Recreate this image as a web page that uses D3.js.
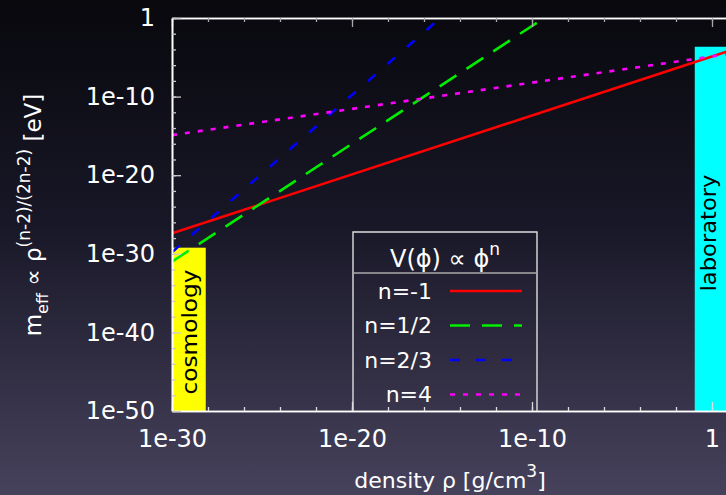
<!DOCTYPE html>
<html>
<head>
<meta charset="utf-8">
<script src="https://cdn.jsdelivr.net/npm/d3@7"></script>
<style>
  html, body { margin: 0; padding: 0; background: #000; }
  svg { display: block; font-family: "DejaVu Sans", sans-serif; }
</style>
</head>
<body>
<div id="chart"></div>
<script>
// chart values
var seriesNames = ["n=-1", "n=1/2", "n=2/3", "n=4"];
var seriesColors = ["#ff0000", "#00ee00", "#0000ff", "#ff00ff"];
var seriesDash = [null, "20,12", "10,16", "5,8"];
// each line is straight on log-log axes: [density, m_eff] end points
var lineMinusOne = [[1e-30, 4e-28], [1e2, 4e-4]];
var lineHalf = [[1e-30, 1e-31], [4.7e-10, 1]];
var lineTwoThirds = [[1e-30, 1.6e-30], [8e-16, 1]];
var lineFour = [[1e-30, 1.26e-15], [1e2, 6e-5]];
var seriesData = [lineMinusOne, lineHalf, lineTwoThirds, lineFour];

var regionNames = ["cosmology", "laboratory"];
var regionColors = ["#ffff00", "#00ffff"];
var regionX = [[1e-30, 7.5e-29], [1.1e-1, 1e10]];
var regionY = [[1e-50, 6e-30], [1e-50, 2.2e-4]];

var xTicks = [1e-30, 1e-20, 1e-10, 1];
var yTicks = [1e-50, 1e-40, 1e-30, 1e-20, 1e-10, 1];

var svgWidth = 726;
var svgHeight = 495;
var margin = { top: 18, left: 172 };
var width = 720;   // 40 decades, runs off the right edge like the original
var height = 393;

var svg = d3.select("#chart")
  .append("svg")
  .attr("width", svgWidth)
  .attr("height", svgHeight);

// background gradient
var defs = svg.append("defs");
var grad = defs.append("linearGradient")
  .attr("id", "bg")
  .attr("x1", 0).attr("y1", 0).attr("x2", 0).attr("y2", 1);
grad.append("stop").attr("offset", "0%").attr("stop-color", "#08080d");
grad.append("stop").attr("offset", "45%").attr("stop-color", "#181727");
grad.append("stop").attr("offset", "100%").attr("stop-color", "#47425c");
svg.append("rect")
  .attr("width", svgWidth).attr("height", svgHeight)
  .attr("fill", "url(#bg)");

defs.append("clipPath").attr("id", "plotclip")
  .append("rect")
  .attr("width", width).attr("height", height);

var chartGroup = svg.append("g")
  .attr("transform", `translate(${margin.left}, ${margin.top})`);

var x = d3.scaleLog().domain([1e-30, 1e10]).range([0, width]);
var y = d3.scaleLog().domain([1e-50, 1]).range([height, 0]);

function fmt(d) {
  var p = Math.round(Math.log10(d));
  return p === 0 ? "1" : "1e" + p;
}

// minor ticks every 2 decades
var xMinor = d3.range(-30, 11, 2).map(p => Math.pow(10, p));
var yMinor = d3.range(-50, 1, 2).map(p => Math.pow(10, p));

// shaded regions
var plot = chartGroup.append("g").attr("clip-path", "url(#plotclip)");
plot.selectAll("rect.region")
  .data(regionNames)
  .enter()
  .append("rect")
  .attr("class", "region")
  .attr("x", (d, i) => x(regionX[i][0]))
  .attr("width", (d, i) => x(regionX[i][1]) - x(regionX[i][0]))
  .attr("y", (d, i) => y(regionY[i][1]))
  .attr("height", (d, i) => y(regionY[i][0]) - y(regionY[i][1]))
  .attr("fill", (d, i) => regionColors[i]);

// region labels
chartGroup.append("text")
  .attr("transform", `translate(${x(1e-30) + 25}, 314) rotate(-90)`)
  .attr("text-anchor", "middle")
  .attr("font-size", 21)
  .attr("textLength", 125)
  .attr("lengthAdjust", "spacingAndGlyphs")
  .attr("fill", "#000")
  .text(regionNames[0]);

chartGroup.append("text")
  .attr("transform", `translate(${x(1) + 4}, 215) rotate(-90)`)
  .attr("text-anchor", "middle")
  .attr("font-size", 21)
  .attr("textLength", 117)
  .attr("lengthAdjust", "spacingAndGlyphs")
  .attr("fill", "#000")
  .text(regionNames[1]);

// the lines
var line = d3.line()
  .x(d => x(d[0]))
  .y(d => y(d[1]));

plot.selectAll("path.series")
  .data(seriesData)
  .enter()
  .append("path")
  .attr("class", "series")
  .attr("d", line)
  .attr("fill", "none")
  .attr("stroke", (d, i) => seriesColors[i])
  .attr("stroke-width", 2.6)
  .attr("stroke-dasharray", (d, i) => seriesDash[i]);

// axes
function styleAxis(g, col) {
  g.select(".domain").attr("stroke", "#fff").attr("stroke-width", 1.6);
  g.selectAll(".tick line").attr("stroke", col).attr("stroke-width", 1.3);
  g.selectAll(".tick text")
    .attr("fill", "#fff")
    .attr("font-size", 24)
    .attr("font-family", "DejaVu Sans, sans-serif");
}

var bottomAxis = chartGroup.append("g")
  .attr("transform", `translate(0, ${height})`)
  .call(d3.axisBottom(x).tickValues(xTicks).tickFormat(fmt)
    .tickSizeInner(-9).tickSizeOuter(0).tickPadding(19));
styleAxis(bottomAxis, "#ddd");

var bottomMinor = chartGroup.append("g")
  .attr("transform", `translate(0, ${height})`)
  .call(d3.axisBottom(x).tickValues(xMinor).tickFormat("")
    .tickSizeInner(-4).tickSizeOuter(0));
styleAxis(bottomMinor, "#ddd");

var topAxis = chartGroup.append("g")
  .call(d3.axisTop(x).tickValues(xTicks).tickFormat("")
    .tickSizeInner(-9).tickSizeOuter(0));
styleAxis(topAxis, "#aaa");

var topMinor = chartGroup.append("g")
  .call(d3.axisTop(x).tickValues(xMinor).tickFormat("")
    .tickSizeInner(-4).tickSizeOuter(0));
styleAxis(topMinor, "#aaa");

var leftAxis = chartGroup.append("g")
  .call(d3.axisLeft(y).tickValues(yTicks).tickFormat(fmt)
    .tickSizeInner(-9).tickSizeOuter(0).tickPadding(17));
styleAxis(leftAxis, "#ccc");

var leftMinor = chartGroup.append("g")
  .call(d3.axisLeft(y).tickValues(yMinor).tickFormat("")
    .tickSizeInner(-4).tickSizeOuter(0));
styleAxis(leftMinor, "#ccc");

// axis titles
var yTitle = svg.append("text")
  .attr("transform", `translate(41, 215) rotate(-90)`)
  .attr("text-anchor", "middle")
  .attr("fill", "#fff")
  .attr("font-size", 23);
yTitle.append("tspan").text("m");
yTitle.append("tspan").attr("font-size", 16).attr("dy", 7).text("eff");
yTitle.append("tspan").attr("dy", -7).text(" \u221d \u03c1");
yTitle.append("tspan").attr("font-size", 17).attr("dy", -11).text("(n-2)/(2n-2)");
yTitle.append("tspan").attr("dy", 11).text(" [eV]");

var xTitle = svg.append("text")
  .attr("x", 450)
  .attr("y", 488)
  .attr("text-anchor", "middle")
  .attr("fill", "#fff")
  .attr("font-size", 22);
xTitle.append("tspan").text("density \u03c1 [g/cm");
xTitle.append("tspan").attr("font-size", 17).attr("dy", -11).text("3");
xTitle.append("tspan").attr("dy", 11).text("]");

// legend box
var legend = svg.append("g");
var lx0 = 353, lx1 = 537, ly0 = 232, ly1 = 411, lsep = 273;
legend.append("path")
  .attr("d", `M${lx0},${ly1} V${ly0} H${lx1} V${ly1}`)
  .attr("fill", "none")
  .attr("stroke", "#ddd")
  .attr("stroke-width", 1.4);
legend.append("line")
  .attr("x1", lx0).attr("x2", lx1)
  .attr("y1", lsep).attr("y2", lsep)
  .attr("stroke", "#aaa")
  .attr("stroke-width", 1.4);

var header = legend.append("text")
  .attr("x", 445).attr("y", 267)
  .attr("text-anchor", "middle")
  .attr("fill", "#fff")
  .attr("font-size", 24);
header.append("tspan").text("V(\u03d5) \u221d \u03d5");
header.append("tspan").attr("font-size", 17).attr("dy", -12).text("n");

var rows = legend.selectAll("g.row")
  .data(seriesNames)
  .enter()
  .append("g")
  .attr("class", "row")
  .attr("transform", (d, i) => `translate(0, ${291 + i * 34.5})`);

rows.append("text")
  .attr("x", 432)
  .attr("dy", "0.36em")
  .attr("text-anchor", "end")
  .attr("fill", "#fff")
  .attr("font-size", 22)
  .text(d => d);

rows.append("line")
  .attr("x1", 450).attr("x2", 522)
  .attr("stroke", (d, i) => seriesColors[i])
  .attr("stroke-width", 2.6)
  .attr("stroke-dasharray", (d, i) => seriesDash[i]);
</script>
</body>
</html>
